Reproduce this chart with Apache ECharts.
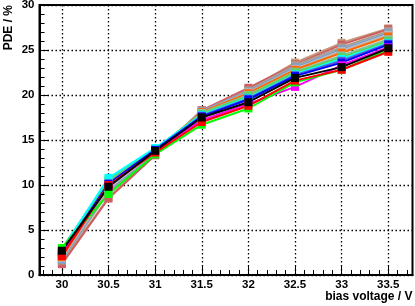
<!DOCTYPE html>
<html>
<head>
<meta charset="utf-8">
<script src="https://cdn.jsdelivr.net/npm/echarts@6/dist/echarts.min.js"></script>
<style>
html,body{margin:0;padding:0;background:#fff;}
#chart{width:415px;height:306px;}
</style>
</head>
<body>
<div id="chart"></div>
<script>
// bias voltage (V)
const voltages = [30, 30.5, 31, 31.5, 32, 32.5, 33, 33.5];
const xMajorTicks = [30, 30.5, 31, 31.5, 32, 32.5, 33, 33.5];
const xMinorTicks = [29.8, 29.9, 30.1, 30.2, 30.3, 30.4, 30.6, 30.7, 30.8, 30.9, 31.1, 31.2, 31.3, 31.4,
  31.6, 31.7, 31.8, 31.9, 32.1, 32.2, 32.3, 32.4, 32.6, 32.7, 32.8, 32.9, 33.1, 33.2, 33.3, 33.4, 33.6, 33.7];

// PDE (%) per channel
const pdeTan        = [1.4, 8.6, 13.4, 18.3, 20.6, 23.6, 25.8, 27.4];
const pdeRose       = [1.2, 8.5, 13.3, 18.3, 20.8, 23.4, 25.6, 27.3];
const pdeGrayTan    = [1.6, 9.2, 13.5, 18.2, 20.5, 23.3, 25.3, 27.1];
const pdeGrayBlue   = [1.7, 9.4, 13.6, 18.2, 20.4, 23.1, 25.1, 26.9];
const pdeLightGray  = [1.9, 9.6, 13.7, 18.1, 20.3, 22.9, 24.9, 26.7];
const pdeOrange     = [2.0, 10.0, 13.8, 18.1, 20.2, 22.8, 24.7, 26.5];
const pdeLightGreen = [2.2, 10.4, 13.9, 18.0, 20.0, 22.6, 24.4, 26.2];
const pdeGreen8     = [2.9, 10.6, 14.0, 17.9, 19.9, 22.5, 24.2, 26.0];
const pdeCyan       = [2.8, 10.8, 14.1, 17.8, 19.7, 22.3, 24.0, 25.8];
const pdePurple     = [2.5, 10.2, 13.9, 17.7, 19.6, 22.2, 23.8, 25.7];
const pdeBlue       = [2.4, 10.1, 13.9, 17.6, 19.5, 22.1, 23.6, 25.6];
const pdeMagenta    = [2.3, 9.9, 13.7, 17.2, 19.0, 20.9, 23.3, 25.3];
const pdeGreen      = [3.0, 9.0, 13.4, 16.7, 18.5, 21.4, 22.8, 25.0];
const pdeRed        = [2.1, 10.0, 13.6, 17.0, 18.8, 21.6, 22.8, 24.8];
const pdeBlack      = [2.7, 9.8, 13.8, 17.5, 19.2, 21.9, 23.1, 25.2];

const seriesDefs = [
  ['ch1', '#c7997d', pdeTan],
  ['ch2', '#cf5e61', pdeRose],
  ['ch3', '#aba08f', pdeGrayTan],
  ['ch4', '#829ec9', pdeGrayBlue],
  ['ch5', '#b8b8b8', pdeLightGray],
  ['ch6', '#ff6600', pdeOrange],
  ['ch7', '#85c2a3', pdeLightGreen],
  ['ch8', '#59d454', pdeGreen8],
  ['ch9', '#00ffff', pdeCyan],
  ['ch10', '#5954d9', pdePurple],
  ['ch11', '#0000ff', pdeBlue],
  ['ch12', '#ff00ff', pdeMagenta],
  ['ch13', '#00ff00', pdeGreen],
  ['ch14', '#ff0000', pdeRed],
  ['ch15', '#000000', pdeBlack]
];

const FONT = 'Liberation Sans';
const dotted = {color: '#000', width: 1.3, type: [1.5, 2.5]};

const chart = echarts.init(document.getElementById('chart'), null, {renderer: 'canvas'});
chart.setOption({
  animation: false,
  backgroundColor: '#fff',
  grid: {left: 39.5, right: 2.5, top: 5, bottom: 31, show: true, borderColor: '#000', borderWidth: 2,
         containLabel: false, outerBoundsMode: 'none'},
  xAxis: [{
    type: 'value', min: 29.76, max: 33.76, position: 'bottom',
    name: 'bias voltage / V', nameLocation: 'end', nameGap: 0, nameMoveOverlap: false,
    nameTextStyle: {fontFamily: FONT, fontWeight: 'bold', fontSize: 12, color: '#000', align: 'right', verticalAlign: 'top', padding: [16, 0, 0, 0]},
    axisLine: {show: true, onZero: false, lineStyle: {color: '#000', width: 2}},
    axisTick: {show: true, inside: true, length: 9, customValues: xMajorTicks, lineStyle: {color: '#000', width: 1}},
    axisLabel: {show: true, customValues: xMajorTicks, margin: 4, fontFamily: FONT, fontWeight: 'bold', fontSize: 11.5, color: '#000'},
    splitLine: {show: true, lineStyle: dotted}
  }, {
    type: 'value', min: 29.76, max: 33.76, position: 'bottom',
    axisLine: {show: false},
    axisTick: {show: true, inside: true, length: 5, customValues: xMinorTicks, lineStyle: {color: '#000', width: 1}},
    axisLabel: {show: false},
    splitLine: {show: false}
  }],
  yAxis: {
    type: 'value', min: 0, max: 30, interval: 5,
    name: 'PDE / %', nameLocation: 'end', nameGap: 0, nameRotate: 90, nameMoveOverlap: false,
    nameTextStyle: {fontFamily: FONT, fontWeight: 'bold', fontSize: 12, color: '#000', align: 'right', verticalAlign: 'bottom', padding: [0, 0, 25, 0]},
    axisLine: {show: true, onZero: false, lineStyle: {color: '#000', width: 2}},
    axisTick: {show: true, inside: true, length: 9, lineStyle: {color: '#000', width: 1}},
    minorTick: {show: true, splitNumber: 5, length: 5, lineStyle: {color: '#000', width: 1}},
    axisLabel: {show: true, margin: 5, fontFamily: FONT, fontWeight: 'bold', fontSize: 11.5, color: '#000'},
    splitLine: {show: true, lineStyle: dotted}
  },
  series: seriesDefs.map(([name, color, vals]) => ({
    name: name, type: 'line', xAxisIndex: 0,
    data: voltages.map((v, i) => [v, vals[i]]),
    symbol: 'rect', symbolSize: 8,
    lineStyle: {color: color, width: 2},
    itemStyle: {color: color, borderWidth: 0},
    emphasis: {disabled: true}
  }))
});
</script>
</body>
</html>
